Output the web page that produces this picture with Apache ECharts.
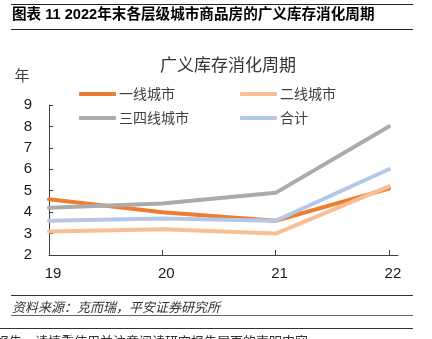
<!DOCTYPE html>
<html><head><meta charset="utf-8">
<script src="https://cdn.jsdelivr.net/npm/echarts@6/dist/echarts.min.js"></script>
<style>html,body{margin:0;padding:0;background:#fff;}#c{width:432px;height:339px;}</style>
</head><body><div id="c"></div>
<script>
const categories = [19, 20, 21, 22];
const tier1 = [4.6, 4.0, 3.6, 5.1];
const tier2 = [3.1, 3.2, 3.0, 5.2];
const tier34 = [4.2, 4.4, 4.9, 8.0];
const total = [3.6, 3.7, 3.6, 6.0];
const seriesNames = ['一线城市', '二线城市', '三四线城市', '合计'];
const seriesColors = ['#ED7D31', '#F8BE96', '#ABABAB', '#B4C7E7'];
const yTicks = [2, 3, 4, 5, 6, 7, 8, 9];

const F = '"Noto Sans CJK SC", "Noto Sans", sans-serif';
const FA = '"Liberation Sans", "Noto Sans CJK SC", sans-serif';
const chart = echarts.init(document.getElementById('c'), null, {renderer: 'canvas'});
const allData = [tier1, tier2, tier34, total];
const series = allData.map((vals, i) => ({
  name: seriesNames[i], type: 'line', symbol: 'none',
  data: categories.map((c, j) => [c, vals[j]]),
  lineStyle: {width: 4, color: seriesColors[i], cap: 'round'},
  itemStyle: {color: seriesColors[i]}, z: 2 + i
}));
chart.setOption({
  animation: false,
  grid: {left: 49, right: 34, top: 105, bottom: 84},
  xAxis: {
    type: 'value', min: 19, max: 22.08, interval: 1,
    axisLine: {lineStyle: {color: '#404040', width: 1}},
    axisTick: {inside: true, length: 5, lineStyle: {color: '#404040'}},
    splitLine: {show: false},
    axisLabel: {showMaxLabel: false, margin: 11, padding: [0, 0, 0, 8], fontFamily: FA, fontSize: 15, color: '#1a1a1a',
      formatter: v => categories.indexOf(v) >= 0 ? String(v) : ''}
  },
  yAxis: {
    type: 'value', min: yTicks[0], max: yTicks[yTicks.length - 1], interval: 1,
    axisLine: {show: true, lineStyle: {color: '#404040', width: 1}},
    axisTick: {show: true, inside: true, length: 4, lineStyle: {color: '#404040'}},
    splitLine: {show: false},
    axisLabel: {margin: 17, fontFamily: FA, fontSize: 15, color: '#1a1a1a'}
  },
  legend: [
    {data: ['一线城市', '三四线城市'], orient: 'vertical', left: 74, top: 81, itemGap: 8,
     itemWidth: 37, itemHeight: 4, icon: 'roundRect',
     textStyle: {fontFamily: F, fontSize: 14, color: '#404040', lineHeight: 16, padding: [0, 0, 0, -2]}},
    {data: ['二线城市', '合计'], orient: 'vertical', left: 235, top: 81, itemGap: 8,
     itemWidth: 37, itemHeight: 4, icon: 'roundRect',
     textStyle: {fontFamily: F, fontSize: 14, color: '#404040', lineHeight: 16, padding: [0, 0, 0, -2]}}
  ],
  graphic: [
    {type: 'line', shape: {x1: 11, y1: 4.5, x2: 413, y2: 4.5}, style: {stroke: '#222', lineWidth: 1}},
    {type: 'text', left: 12, top: 8, style: {text: '图表 11 2022年末各层级城市商品房的广义库存消化周期', font: 'bold 14.6px ' + FA, fill: '#000'}},
    {type: 'line', shape: {x1: 11, y1: 29.5, x2: 413, y2: 29.5}, style: {stroke: '#222', lineWidth: 1}},
    {type: 'text', x: 228, y: 65, style: {text: '广义库存消化周期', font: '17px ' + F, fill: '#333', align: 'center', verticalAlign: 'middle'}},
    {type: 'text', x: 22, y: 75, style: {text: '年', font: '15px ' + F, fill: '#404040', align: 'center', verticalAlign: 'middle'}},
    {type: 'line', shape: {x1: 11, y1: 295.5, x2: 413, y2: 295.5}, style: {stroke: '#333', lineWidth: 1}},
    {type: 'text', x: 12, y: 307, style: {text: '资料来源：克而瑞，平安证券研究所', font: 'italic 13px ' + F, fill: '#333', verticalAlign: 'middle'}},
    {type: 'line', shape: {x1: 11, y1: 315.5, x2: 413, y2: 315.5}, style: {stroke: '#666', lineWidth: 1}},
    {type: 'line', shape: {x1: 0, y1: 328.5, x2: 413, y2: 328.5}, style: {stroke: '#333', lineWidth: 1}},
    {type: 'text', x: -4, y: 341, style: {text: '报告，请慎重使用并注意阅读研究报告尾页的声明内容', font: '13px ' + F, fill: '#333', verticalAlign: 'middle'}}
  ],
  series: series
});
</script></body></html>
